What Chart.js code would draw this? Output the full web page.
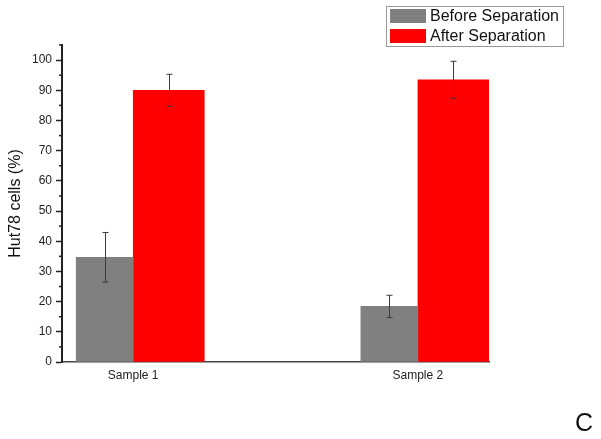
<!DOCTYPE html>
<html>

<head>
    <title>Hut78 cells</title>
    <style>
        body {
            margin: 0;
            background-color: white;
            font-family: "Liberation Sans", Arial, sans-serif;
        }

        .wrap {
            position: relative;
            width: 601px;
            height: 439px;
        }

        .legend {
            position: absolute;
            left: 386px;
            top: 6px;
            width: 176px;
            height: 39px;
            border: 1px solid #999;
            font-size: 16px;
            color: #111;
        }

        .legend-row {
            position: absolute;
            left: 3px;
            height: 14px;
            display: flex;
            align-items: center;
        }

        .swatch {
            width: 36px;
            height: 14px;
            margin-right: 4px;
        }

        .panel-letter {
            position: absolute;
            left: 575px;
            top: 408px;
            font-size: 25px;
            color: #111;
        }
    </style>
</head>

<body>
    <div class="wrap">
        <canvas id="cellsChart"></canvas>
        <div class="legend" id="legend"></div>
        <div class="panel-letter">C</div>
    </div>

    <script src="https://cdn.jsdelivr.net/npm/chart.js"></script>
    <script>
        // values
        const categories = ['Sample 1', 'Sample 2'];
        const seriesNames = ['Before Separation', 'After Separation'];
        const beforeValues = [34.7, 18.4];
        const afterValues = [90.0, 93.5];
        const beforeErrors = [8.2, 3.7];
        const afterErrors = [5.3, 6.1];
        const yTickValues = [0, 10, 20, 30, 40, 50, 60, 70, 80, 90, 100];
        const yMinorTicks = [5, 15, 25, 35, 45, 55, 65, 75, 85, 95, 105];

        const grayColor = '#808080';
        const redColor = '#ff0000';

        // gray bar sits left of the category centre, red bar right of it
        const beforeShift = -0.1;
        const afterShift = 0.125;

        function points(values, errors, shift) {
            return values.map((v, i) => ({ x: i + 1 + shift, y: v, err: errors[i] }));
        }

        // error bars drawn through the y scale
        const errorBars = {
            id: 'errorBars',
            afterDatasetsDraw(chart) {
                const ctx = chart.ctx;
                const yScale = chart.scales.y;
                ctx.save();
                ctx.strokeStyle = '#3a3a3a';
                ctx.lineWidth = 1;
                chart.data.datasets.forEach((ds, di) => {
                    const meta = chart.getDatasetMeta(di);
                    meta.data.forEach((bar, i) => {
                        const p = ds.data[i];
                        const top = yScale.getPixelForValue(p.y + p.err);
                        const bottom = yScale.getPixelForValue(p.y - p.err);
                        const x = Math.round(bar.x) + 0.5;
                        ctx.beginPath();
                        ctx.moveTo(x, top);
                        ctx.lineTo(x, bottom);
                        ctx.moveTo(x - 3, top);
                        ctx.lineTo(x + 3, top);
                        ctx.moveTo(x - 3, bottom);
                        ctx.lineTo(x + 3, bottom);
                        ctx.stroke();
                    });
                });
                ctx.restore();
            }
        };

        // short minor ticks on the y axis
        const minorTicks = {
            id: 'minorTicks',
            afterDraw(chart) {
                const ctx = chart.ctx;
                const yScale = chart.scales.y;
                const left = chart.chartArea.left;
                ctx.save();
                ctx.strokeStyle = '#222';
                ctx.lineWidth = 1.5;
                yMinorTicks.forEach(v => {
                    const y = yScale.getPixelForValue(v);
                    ctx.beginPath();
                    ctx.moveTo(left - 3, y);
                    ctx.lineTo(left, y);
                    ctx.stroke();
                });
                ctx.restore();
            }
        };

        const ctx = document.getElementById('cellsChart').getContext('2d');
        const myChart = new Chart(ctx, {
            type: 'bar',
            data: {
                datasets: [{
                    label: seriesNames[0],
                    data: points(beforeValues, beforeErrors, beforeShift),
                    backgroundColor: grayColor,
                    barThickness: 57,
                    grouped: false
                }, {
                    label: seriesNames[1],
                    data: points(afterValues, afterErrors, afterShift),
                    backgroundColor: redColor,
                    barThickness: 71,
                    grouped: false
                }]
            },
            options: {
                responsive: true,
                maintainAspectRatio: false,
                animation: false,
                layout: {
                    padding: { left: 0, top: 45, right: 112, bottom: 0 }
                },
                plugins: {
                    legend: { display: false },
                    tooltip: { enabled: false }
                },
                scales: {
                    x: {
                        type: 'linear',
                        offset: false,
                        min: 0.75,
                        max: 2.25,
                        afterBuildTicks: axis => {
                            axis.ticks = categories.map((c, i) => ({ value: i + 1 }));
                        },
                        afterFit: axis => { axis.height = 77; },
                        grid: { display: false, drawTicks: false, offset: false },
                        border: { display: true, color: '#444', width: 1.5 },
                        ticks: {
                            padding: 6,
                            color: '#222',
                            font: { family: 'Liberation Sans', size: 12 },
                            callback: v => categories[v - 1]
                        }
                    },
                    y: {
                        min: 0,
                        max: 105,
                        afterBuildTicks: axis => {
                            axis.ticks = yTickValues.map(v => ({ value: v }));
                        },
                        afterFit: axis => { axis.width = 62; },
                        grid: {
                            display: true,
                            drawOnChartArea: false,
                            drawTicks: true,
                            tickLength: 6,
                            tickColor: '#222',
                            tickWidth: 1.5
                        },
                        border: { display: true, color: '#222', width: 2 },
                        ticks: {
                            padding: 4,
                            color: '#222',
                            font: { family: 'Liberation Sans', size: 12 }
                        },
                        title: {
                            display: true,
                            text: 'Hut78 cells (%)',
                            color: '#111',
                            padding: { top: 6, bottom: 0 },
                            font: { family: 'Liberation Sans', size: 16 }
                        }
                    }
                }
            },
            plugins: [errorBars, minorTicks]
        });

        // legend box, built from the dataset labels and colours
        const legend = document.getElementById('legend');
        myChart.data.datasets.forEach((ds, i) => {
            const row = document.createElement('div');
            row.className = 'legend-row';
            row.style.top = (2 + i * 20) + 'px';
            const sw = document.createElement('div');
            sw.className = 'swatch';
            sw.style.backgroundColor = ds.backgroundColor;
            const label = document.createElement('span');
            label.textContent = ds.label;
            row.appendChild(sw);
            row.appendChild(label);
            legend.appendChild(row);
        });
    </script>
</body>

</html>
